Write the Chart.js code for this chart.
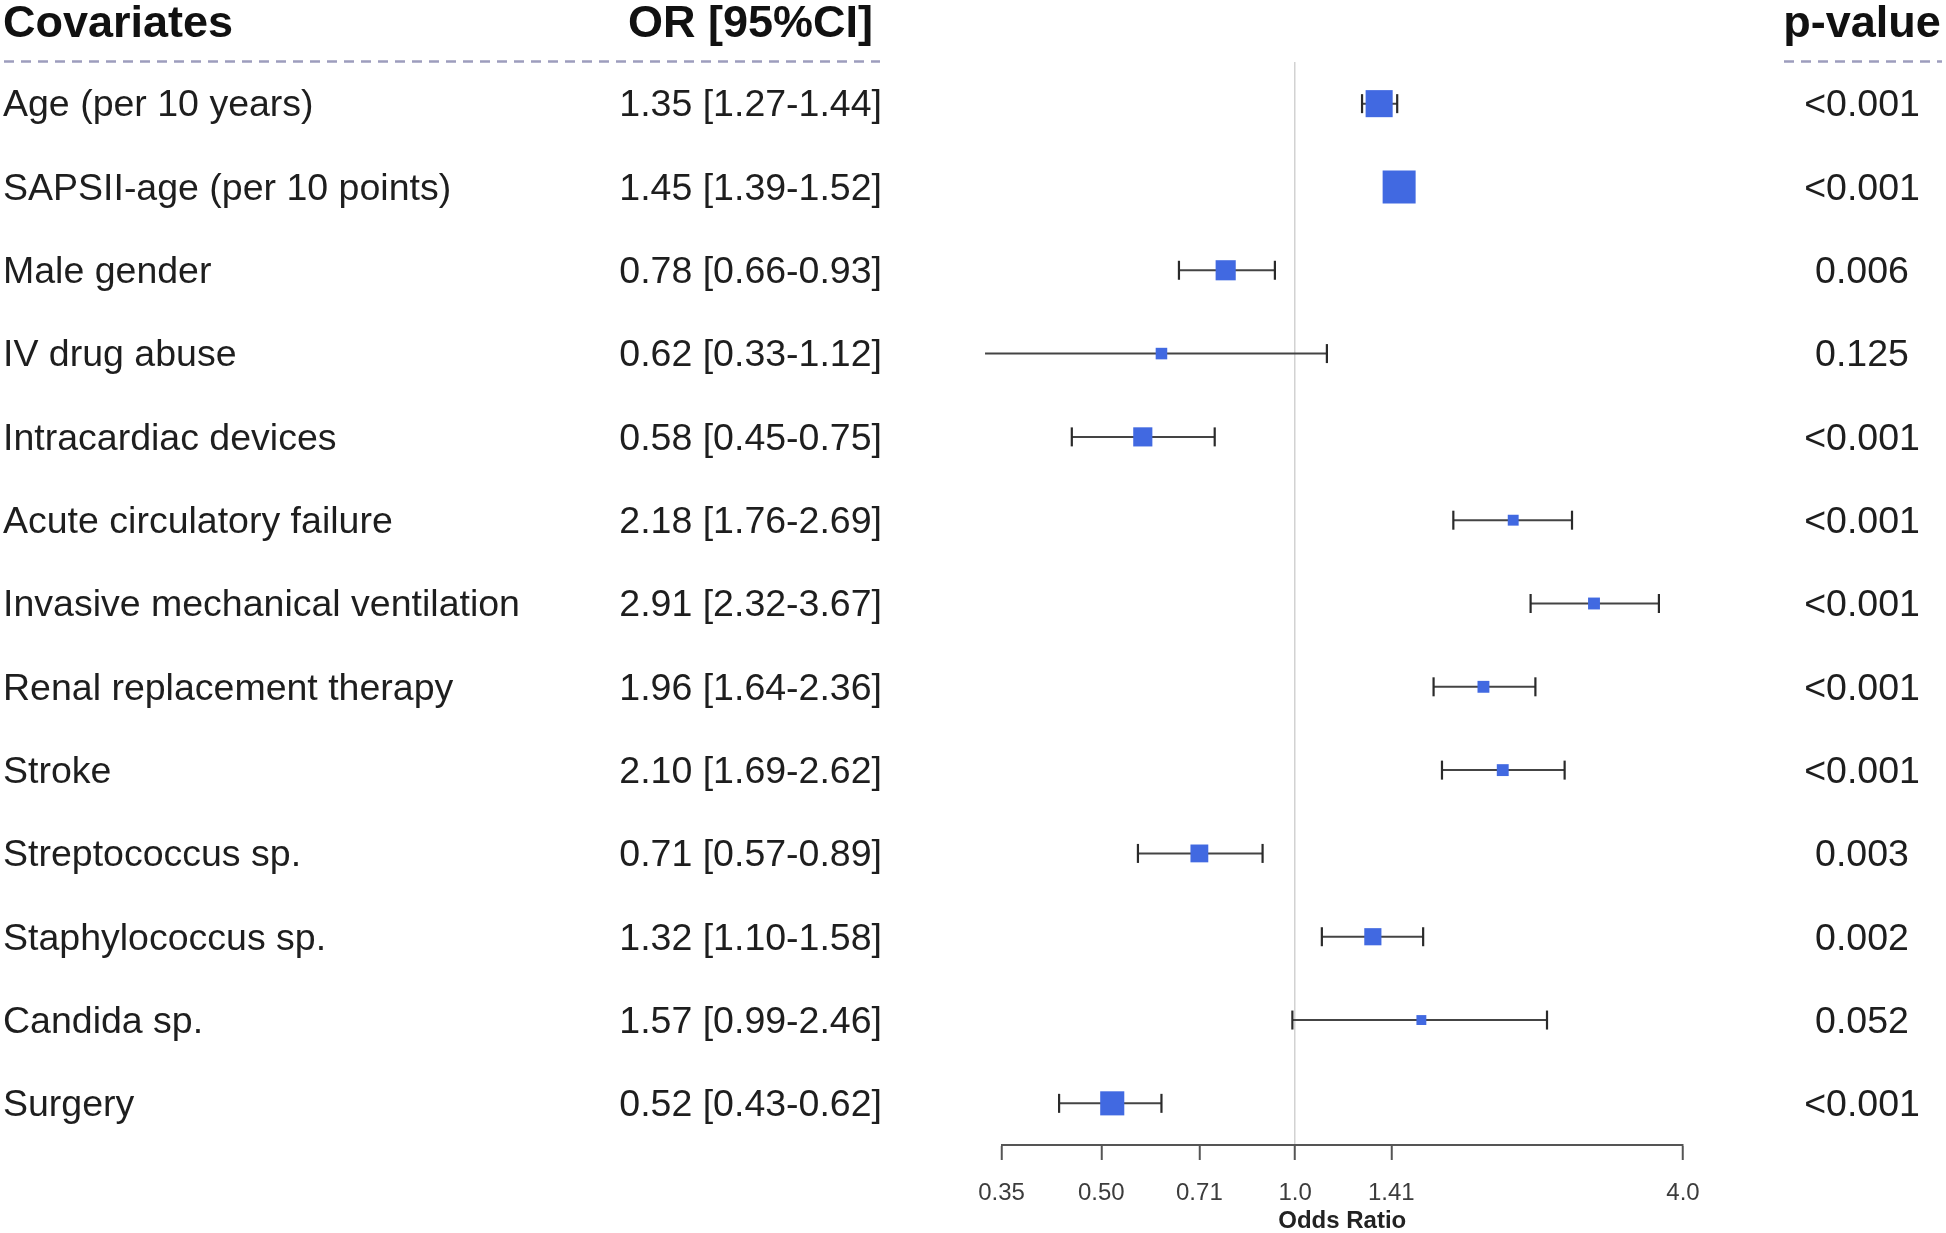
<!DOCTYPE html>
<html>
<head>
<meta charset="utf-8">
<script src="https://cdn.jsdelivr.net/npm/chart.js@4.4.1/dist/chart.umd.min.js"></script>
<style>
  html, body { margin: 0; padding: 0; background: #ffffff; }
  canvas { display: block; }
</style>
</head>
<body>
<canvas id="forest" width="1946" height="1233"></canvas>
<script>
// ---------------- DATA ----------------
const covariates = [
  'Age (per 10 years)',
  'SAPSII-age (per 10 points)',
  'Male gender',
  'IV drug abuse',
  'Intracardiac devices',
  'Acute circulatory failure',
  'Invasive mechanical ventilation',
  'Renal replacement therapy',
  'Stroke',
  'Streptococcus sp.',
  'Staphylococcus sp.',
  'Candida sp.',
  'Surgery'
];
const oddsRatios = [1.35, 1.45, 0.78, 0.62, 0.58, 2.18, 2.91, 1.96, 2.10, 0.71, 1.32, 1.57, 0.52];
const ciLower    = [1.27, 1.39, 0.66, 0.33, 0.45, 1.76, 2.32, 1.64, 1.69, 0.57, 1.10, 0.99, 0.43];
const ciUpper    = [1.44, 1.52, 0.93, 1.12, 0.75, 2.69, 3.67, 2.36, 2.62, 0.89, 1.58, 2.46, 0.62];
const pValues    = ['<0.001', '<0.001', '0.006', '0.125', '<0.001', '<0.001', '<0.001',
                    '<0.001', '<0.001', '0.003', '0.002', '0.052', '<0.001'];
// relative box weights (largest = 1)
const boxWeights = [0.82, 1.00, 0.61, 0.35, 0.58, 0.33, 0.36, 0.36, 0.36, 0.54, 0.52, 0.30, 0.73];
const xTickValues = [0.35, 0.50, 0.71, 1.0, 1.41, 4.0];
const xTickLabels = ['0.35', '0.50', '0.71', '1.0', '1.41', '4.0'];
const headers = ['Covariates', 'OR [95%CI]', 'p-value'];
const xTitle = 'Odds Ratio';

// ---------------- STYLE ----------------
const FONT = '"Liberation Sans", Arial, Helvetica, sans-serif';
const MAX_BOX = 33;
const BOX_COLOR = '#4169E1';
const CI_COLOR = '#444444';

const orText = i => `${oddsRatios[i].toFixed(2)} [${ciLower[i].toFixed(2)}-${ciUpper[i].toFixed(2)}]`;

const datasets = [];
datasets.push({
  label: 'OR',
  data: oddsRatios.map((v, i) => ({ x: v, y: covariates[i] })),
  showLine: false,
  clip: false,
  pointStyle: 'rect',
  pointRadius: boxWeights.map(w => (w * MAX_BOX) / Math.SQRT2),
  pointHoverRadius: boxWeights.map(w => (w * MAX_BOX) / Math.SQRT2),
  backgroundColor: BOX_COLOR,
  pointBackgroundColor: BOX_COLOR,
  pointBorderWidth: 0,
  borderWidth: 0
});
covariates.forEach((name, i) => {
  datasets.push({
    label: 'CI ' + name,
    data: [{ x: ciLower[i], y: name }, { x: ciUpper[i], y: name }],
    showLine: true,
    clip: false,
    borderColor: CI_COLOR,
    borderWidth: 2,
    pointStyle: 'line',
    rotation: 90,
    pointRadius: 9.5,
    pointHoverRadius: 9.5,
    pointBorderColor: '#2a2a2a',
    pointBorderWidth: 2.2
  });
});

const textColumns = {
  id: 'textColumns',
  afterDraw(chart) {
    const { ctx } = chart;
    const yScale = chart.scales.y;
    ctx.save();
    // headers
    ctx.fillStyle = '#111111';
    ctx.font = `bold 45px ${FONT}`;
    ctx.textBaseline = 'alphabetic';
    ctx.textAlign = 'left';
    ctx.fillText(headers[0], 3, 37);
    ctx.textAlign = 'right';
    ctx.fillText(headers[1], 873, 37);
    ctx.textAlign = 'center';
    ctx.fillText(headers[2], 1862, 37);
    // dashed header rules
    ctx.strokeStyle = '#9d9dbd';
    ctx.lineWidth = 2.5;
    ctx.setLineDash([10, 7]);
    ctx.beginPath();
    ctx.moveTo(4, 61.5); ctx.lineTo(880, 61.5);
    ctx.moveTo(1784, 61.5); ctx.lineTo(1942, 61.5);
    ctx.stroke();
    ctx.setLineDash([]);
    // OR and p-value columns
    ctx.font = `37.5px ${FONT}`;
    ctx.fillStyle = '#1e1e1e';
    ctx.textBaseline = 'middle';
    covariates.forEach((_, i) => {
      const py = yScale.getPixelForValue(i) + 2.5;
      ctx.textAlign = 'right';
      ctx.fillText(orText(i), 882, py);
      ctx.textAlign = 'center';
      ctx.fillText(pValues[i], 1862, py);
    });
    ctx.restore();
  }
};

new Chart(document.getElementById('forest'), {
  type: 'scatter',
  data: { datasets },
  options: {
    responsive: false,
    animation: false,
    devicePixelRatio: 1,
    layout: { padding: { left: 3, right: 263, top: 62, bottom: 0 } },
    plugins: {
      legend: { display: false },
      tooltip: { enabled: false },
      title: { display: false }
    },
    events: [],
    scales: {
      x: {
        type: 'logarithmic',
        position: 'bottom',
        min: 0.35,
        max: 4.0,
        afterBuildTicks: s => { s.ticks = xTickValues.map(v => ({ value: v })); },
        afterFit: s => { s.height = 88; },
        ticks: {
          autoSkip: false,
          maxRotation: 0,
          padding: 18.5,
          color: '#3c3c3c',
          font: { family: FONT, size: 24 },
          callback: (v, i) => xTickLabels[i]
        },
        grid: {
          display: true,
          drawOnChartArea: true,
          drawTicks: true,
          tickLength: 15,
          tickWidth: 2,
          tickColor: '#555555',
          lineWidth: 1.5,
          color: c => (c.tick && c.tick.value === 1) ? '#d2d2d2' : 'rgba(0,0,0,0)'
        },
        border: { display: true, color: '#555555', width: 2 },
        title: {
          display: true,
          text: xTitle,
          color: '#222222',
          padding: { top: 0, bottom: 0 },
          font: { family: FONT, size: 24, weight: 'bold', lineHeight: 1.0 }
        }
      },
      y: {
        type: 'category',
        labels: covariates,
        position: 'left',
        offset: true,
        afterFit: s => { s.width = 998.5; },
        ticks: {
          crossAlign: 'far',
          autoSkip: false,
          labelOffset: 2.5,
          color: '#1e1e1e',
          font: { family: FONT, size: 37.5 }
        },
        grid: { display: false, drawTicks: false },
        border: { display: false }
      }
    }
  },
  plugins: [textColumns]
});
</script>
</body>
</html>
